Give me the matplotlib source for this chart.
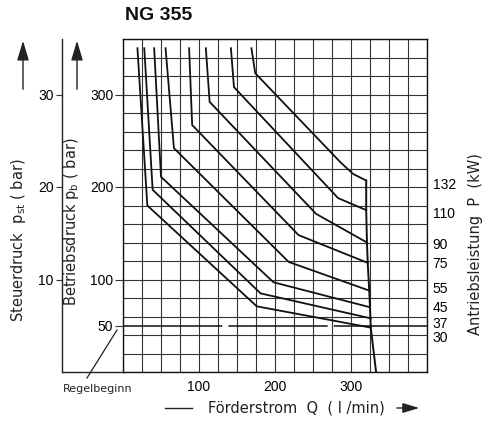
import numpy as np
import matplotlib
matplotlib.use("Agg")
import matplotlib.pyplot as plt
from matplotlib.lines import Line2D

plt.rcParams['font.family'] = ['Liberation Sans', 'DejaVu Sans']
plt.rcParams['mathtext.default'] = 'regular'

# ---------------- data ----------------
power_kw = [30, 37, 45, 55, 75, 90, 110, 132]
Q_30 = [19, 32, 176, 326];  p_30 = [350, 180, 71, 48]
Q_37 = [28, 39, 181, 326];  p_37 = [350, 197, 85, 58]
Q_45 = [41, 50, 198, 325];  p_45 = [350, 211, 97, 70]
Q_55 = [56, 67, 218, 324];  p_55 = [350, 242, 119, 88]
Q_75 = [87, 91, 231, 322];  p_75 = [350, 267, 148, 118]
Q_90 = [109, 114, 254, 321]; p_90 = [350, 292, 171, 140]
Q_110 = [142, 146, 283, 320]; p_110 = [350, 308, 188, 175]
Q_132 = [169, 174, 287, 303, 320]; p_132 = [350, 323, 226, 214, 207]
curves_Q = [Q_30, Q_37, Q_45, Q_55, Q_75, Q_90, Q_110, Q_132]
curves_p = [p_30, p_37, p_45, p_55, p_75, p_90, p_110, p_132]

# maximum-flow boundary line
Qmax = [320, 320, 321, 322, 324, 325, 326, 333]
pmax = [207, 175, 140, 118, 88, 70, 48, 0]

# power label positions on the right (bar)
label_p = [38, 54, 71, 91, 118, 139, 172, 204]

x_labels = [100, 200, 300]
pb_labels = [50, 100, 200, 300]
pst_labels = [10, 20, 30]
regel_p = 50

W, H = 485, 421
fig = plt.figure(figsize=(W / 100, H / 100), dpi=100)

L, R, T, B = 123, 427, 39, 372
ax = fig.add_axes([L / W, 1 - B / H, (R - L) / W, (B - T) / H])
ax.set_xlim(0, 400)
ax.set_ylim(0, 360)

gcol = '#333333'
ax.set_xticks(x_labels)
ax.set_xticklabels([str(v) for v in x_labels], fontsize=10)
ax.set_xticks(np.arange(0, 401, 25), minor=True)
ax.set_yticks(pb_labels)
ax.set_yticklabels([str(v) for v in pb_labels], fontsize=10)
ax.set_yticks(np.arange(0, 361, 20), minor=True)
ax.xaxis.remove_overlapping_locs = False
ax.yaxis.remove_overlapping_locs = False
ax.grid(which='minor', color=gcol, lw=0.8)
ax.grid(which='major', visible=False)
ax.tick_params(axis='x', which='both', length=0, pad=6)
ax.tick_params(axis='y', which='major', length=6, width=0.8, pad=1, color=gcol)
ax.tick_params(axis='y', which='minor', length=0)
ax.axhline(regel_p, color='#111111', lw=1.1, dashes=(65, 4))
for s in ax.spines.values():
    s.set_linewidth(1.0)
    s.set_color('#111111')

for q, p in zip(curves_Q, curves_p):
    ax.plot(q, p, color='#111111', lw=1.3, solid_joinstyle='round')
ax.plot(Qmax, pmax, color='#111111', lw=1.4)

# right labels (power)
ax3 = ax.twinx()
ax3.set_ylim(0, 360)
ax3.set_yticks(label_p)
ax3.set_yticklabels([str(v) for v in power_kw], fontsize=10)
ax3.tick_params(axis='y', length=0, pad=4)
for s in ax3.spines.values():
    s.set_visible(False)

# Steuerdruck axis
ax2 = fig.add_axes([62 / W, 1 - B / H, (L - 62) / W, (B - T) / H])
ax2.set_ylim(0, 36)
ax2.set_xlim(0, 1)
ax2.set_xticks([])
ax2.set_yticks(pst_labels)
ax2.set_yticklabels([str(v) for v in pst_labels], fontsize=10)
ax2.tick_params(axis='y', length=4, width=0.8, pad=2, color=gcol)
ax2.patch.set_visible(False)
for k in ['top', 'right']:
    ax2.spines[k].set_visible(False)
for k in ['left', 'bottom']:
    ax2.spines[k].set_linewidth(1.0)
    ax2.spines[k].set_color('#222222')

# title
fig.text(125 / W, 1 - 15 / H, 'NG 355', fontsize=14, fontweight='bold',
         family='Liberation Sans', ha='left', va='center', color='#111111')

# rotated axis labels
lab = dict(rotation=90, fontsize=10.5, ha='center', va='center',
           color='#222222', family='DejaVu Sans')
fig.text(19 / W, 1 - 240 / H, 'Steuerdruck  p$_{st}$ ( bar)', **lab)
fig.text(72 / W, 1 - 222 / H, 'Betriebsdruck p$_{b}$ ( bar)', **lab)
fig.text(476 / W, 1 - 244 / H, 'Antriebsleistung  P  (kW)', **lab)

# up arrows
for xa in (23, 77):
    fig.add_artist(matplotlib.patches.FancyArrowPatch(
        (xa / W, 1 - 92 / H), (xa / W, 1 - 38 / H), transform=fig.transFigure,
        arrowstyle='-|>,head_length=1.0,head_width=0.3', mutation_scale=12,
        color='#222222', lw=1.0))

# Foerderstrom label with arrow
fig.text(296 / W, 1 - 408 / H, 'Förderstrom  Q  ( l /min)', fontsize=10.5,
         family='DejaVu Sans', ha='center', va='center', color='#222222')
fig.add_artist(Line2D([165 / W, 192 / W], [1 - 408 / H, 1 - 408 / H],
                      transform=fig.transFigure, color='#222222', lw=1.0))
fig.add_artist(matplotlib.patches.FancyArrowPatch(
    (394 / W, 1 - 408 / H), (422 / W, 1 - 408 / H), transform=fig.transFigure,
    arrowstyle='-|>,head_length=1.0,head_width=0.3', mutation_scale=10,
    color='#222222', lw=1.0))

# Regelbeginn
fig.text(98 / W, 1 - 389 / H, 'Regelbeginn', fontsize=8, family='DejaVu Sans',
         ha='center', va='center', color='#222222')
fig.add_artist(Line2D([87 / W, 117 / W], [1 - 378 / H, 1 - 330 / H],
                      transform=fig.transFigure, color='#222222', lw=0.9))

fig.savefig('out.png', dpi=100)
